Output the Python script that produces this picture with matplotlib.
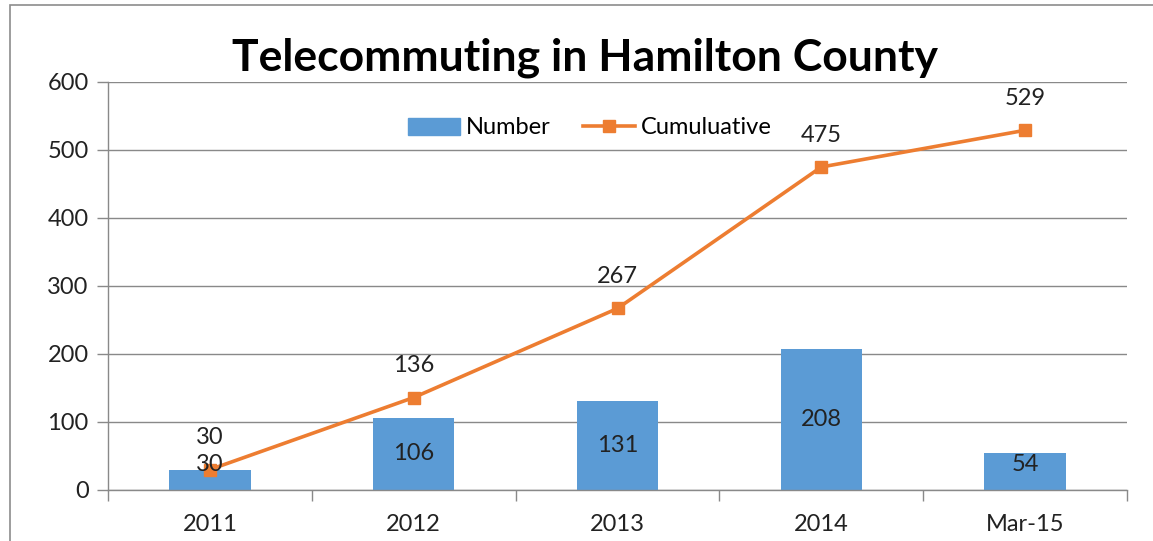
import matplotlib
matplotlib.use("Agg")
import matplotlib.pyplot as plt
from matplotlib.patches import Rectangle
from matplotlib.lines import Line2D

# data
categories = ["2011", "2012", "2013", "2014", "Mar-15"]
number = [30, 106, 131, 208, 54]
cumulative = [30, 136, 267, 475, 529]
yticks = [0, 100, 200, 300, 400, 500, 600]

BLUE = "#5B9BD5"
ORANGE = "#ED7D31"
GRID = "#898989"
FONT = ["Lato", "DejaVu Sans"]

plt.rcParams["font.family"] = FONT

fig = plt.figure(figsize=(11.53, 5.41), dpi=100)
ax = fig.add_axes([108 / 1153, 51 / 541, 1019 / 1153, 408 / 541])

# outer chart border
fig.patches.append(Rectangle((10 / 1153, -0.05), 1.05, 0.05 + 536 / 541,
                             transform=fig.transFigure, fill=False,
                             edgecolor="#8c8c8c", linewidth=1.2))

x = list(range(len(categories)))
ax.bar(x, number, width=0.4, color=BLUE, zorder=2)
ax.plot(x, cumulative, color=ORANGE, linewidth=2.6, marker="s",
        markersize=9, zorder=3)

for xi, v in zip(x, number):
    ax.text(xi, max(v / 2, 38), str(v), ha="center", va="center",
            fontsize=17, color="#222222", zorder=4)
for xi, v in zip(x, cumulative):
    ax.annotate(str(v), (xi, v), xytext=(0, 23), textcoords="offset points",
                ha="center", va="center", fontsize=17, color="#222222", zorder=4)

ax.set_xlim(-0.5, len(categories) - 0.5)
ax.set_ylim(0, 600)
ax.set_yticks(yticks)
ax.set_yticklabels([str(t) for t in yticks])
ax.yaxis.grid(True, color=GRID, linewidth=1.0)
ax.set_axisbelow(True)
ax.tick_params(axis="y", length=8, width=1.0, color=GRID, labelsize=17,
               pad=6, labelcolor="#222222")

# category labels centred, tick marks on boundaries
ax.set_xticks([i - 0.5 for i in range(len(categories) + 1)])
ax.set_xticklabels([])
ax.set_xticks(x, minor=True)
ax.set_xticklabels(categories, minor=True)
ax.tick_params(axis="x", which="major", length=8, width=1.0, color=GRID)
ax.tick_params(axis="x", which="minor", length=0, labelsize=17, pad=17,
               labelcolor="#222222")

for s in ["top", "right"]:
    ax.spines[s].set_visible(False)
for s in ["left", "bottom"]:
    ax.spines[s].set_color(GRID)
    ax.spines[s].set_linewidth(1.0)

fig.text(585 / 1153, 1 - 58 / 541, "Telecommuting in Hamilton County",
         ha="center", va="center", fontsize=32, fontweight="bold", color="black")

handles = [Rectangle((0, 0), 1, 1, color=BLUE),
           Line2D([], [], color=ORANGE, linewidth=2.6, marker="s", markersize=9)]
ax.legend(handles, ["Number", "Cumuluative"], loc="center",
          bbox_to_anchor=(590 / 1153, 1 - 128 / 541), bbox_transform=fig.transFigure,
          ncol=2, frameon=False, fontsize=17, handlelength=2.2, columnspacing=1.4,
          handletextpad=0.25, handleheight=0.7)

fig.savefig("out.png", dpi=100)
